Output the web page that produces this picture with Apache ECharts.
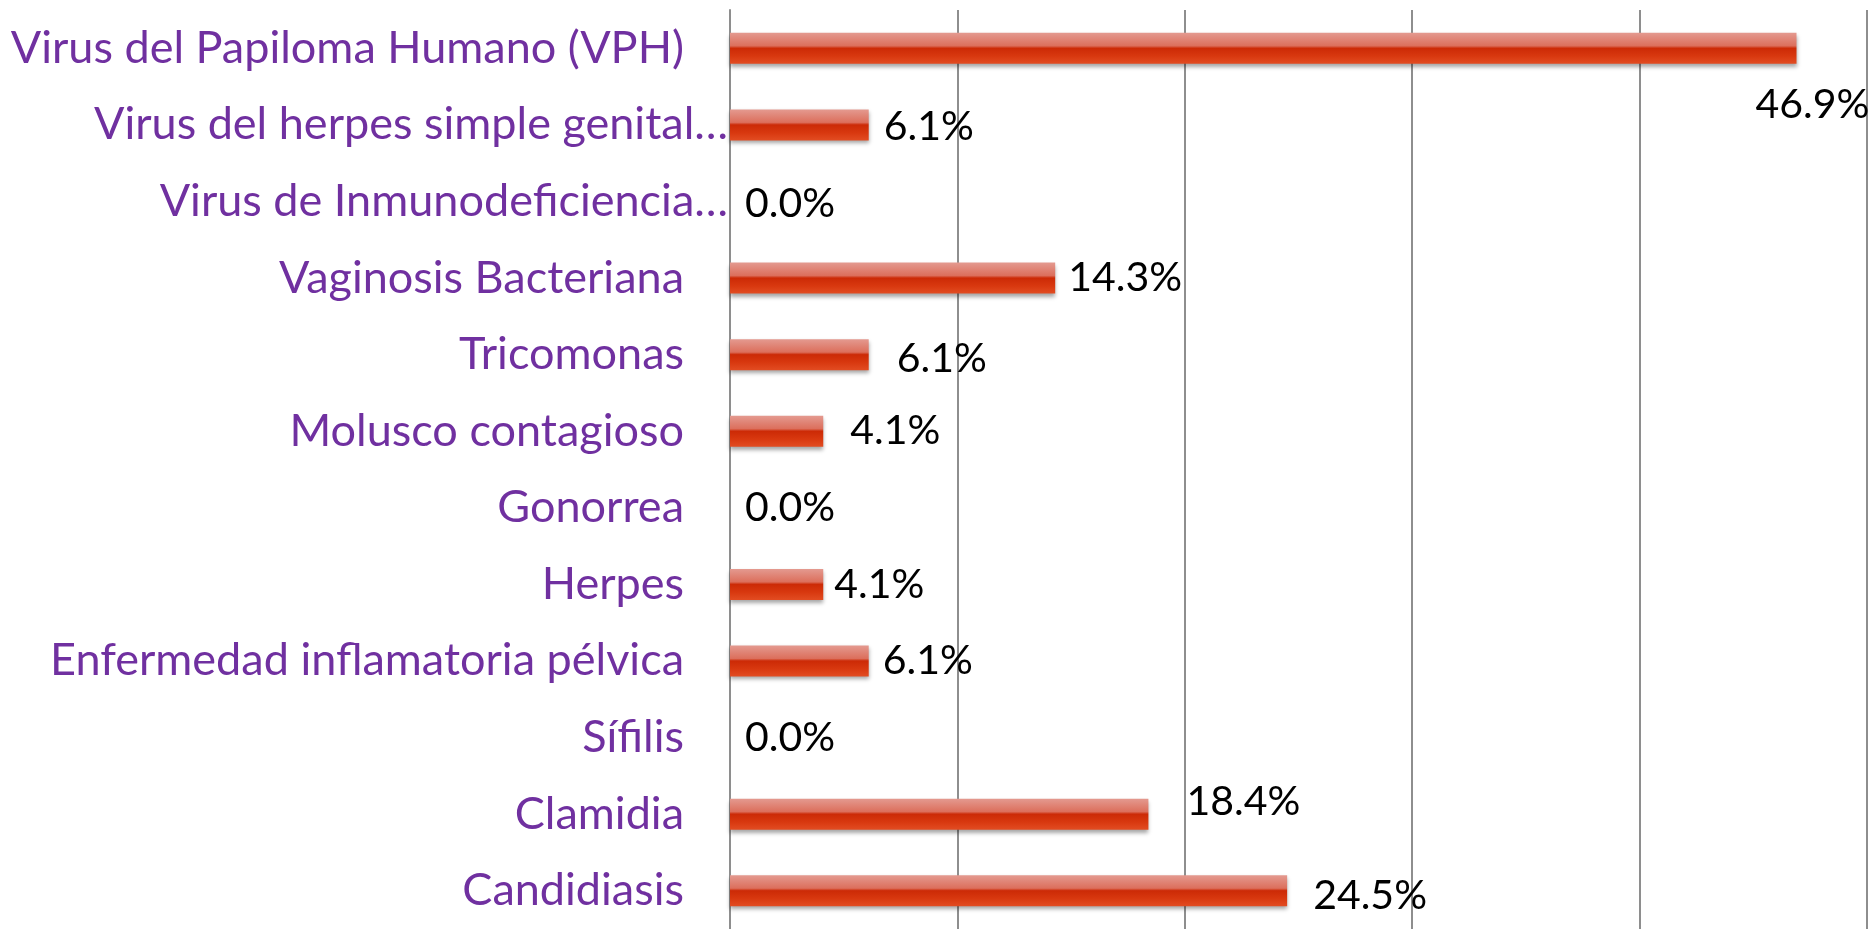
<!DOCTYPE html>
<html>
<head>
<meta charset="utf-8">
<script src="https://cdn.jsdelivr.net/npm/echarts@6/dist/echarts.min.js"></script>
<style>
  html, body { margin: 0; padding: 0; background: #fff; }
  #chart { width: 1876px; height: 929px; }
</style>
</head>
<body>
<div id="chart"></div>
<script>
// categories, top to bottom
const categories = [
  'Virus del Papiloma Humano (VPH)',
  'Virus del herpes simple genital…',
  'Virus de Inmunodeficiencia…',
  'Vaginosis Bacteriana',
  'Tricomonas',
  'Molusco contagioso',
  'Gonorrea',
  'Herpes',
  'Enfermedad inflamatoria pélvica',
  'Sífilis',
  'Clamidia',
  'Candidiasis'
]
const values = [46.9, 6.1, 0.0, 14.3, 6.1, 4.1, 0.0, 4.1, 6.1, 0.0, 18.4, 24.5]
const xTicks = [0, 10, 20, 30, 40, 50]

// label nudges (layout only), [dx, dy] from the bar end
const labelNudge = [
  [-41, 56], [15, 2], [15, 2], [13, 0], [28, 4], [27, 0],
  [15, 0], [11, 0], [14, 0], [15, 0], [38, -12], [26, 5]
]

const chart = echarts.init(document.getElementById('chart'))

const barColor = new echarts.graphic.LinearGradient(0, 0, 0, 1, [
  { offset: 0, color: '#e49a90' },
  { offset: 0.42, color: '#dc6f5c' },
  { offset: 0.5, color: '#cc2a06' },
  { offset: 0.75, color: '#d8380f' },
  { offset: 1, color: '#e24c22' }
])

chart.setOption({
  animation: false,
  textStyle: { fontFamily: 'Lato' },
  grid: {
    left: 730,
    right: 9,
    top: 10,
    height: 924,
    containLabel: false
  },
  xAxis: {
    type: 'value',
    min: xTicks[0],
    max: xTicks[xTicks.length - 1],
    interval: xTicks[1] - xTicks[0],
    axisLine: { show: false },
    axisTick: { show: false },
    axisLabel: { show: false },
    splitLine: { lineStyle: { color: '#8e8e8e', width: 2 } }
  },
  yAxis: {
    type: 'category',
    inverse: true,
    data: categories,
    axisLine: { lineStyle: { color: '#8e8e8e', width: 2 } },
    axisTick: { length: 15, lineStyle: { color: '#8e8e8e', width: 2 } },
    axisLabel: {
      margin: 2,
      color: '#7030a0',
      fontSize: 45,
      fontFamily: 'Lato',
      formatter: v => v.endsWith('…') ? v : '{p|' + v + '}',
      rich: {
        p: { color: '#7030a0', fontSize: 45, fontFamily: 'Lato', padding: [0, 44, 0, 0] }
      }
    }
  },
  series: [{
    type: 'bar',
    barWidth: 31,
    data: values.map((v, i) => ({
      value: v,
      label: { offset: labelNudge[i] }
    })),
    itemStyle: {
      color: barColor,
      shadowColor: 'rgba(0,0,0,0.35)',
      shadowBlur: 4,
      shadowOffsetY: 3
    },
    label: {
      show: true,
      position: 'right',
      distance: 0,
      color: '#000',
      fontSize: 41,
      fontFamily: 'Lato',
      formatter: p => p.value.toFixed(1) + '%'
    }
  }]
})
</script>
</body>
</html>
